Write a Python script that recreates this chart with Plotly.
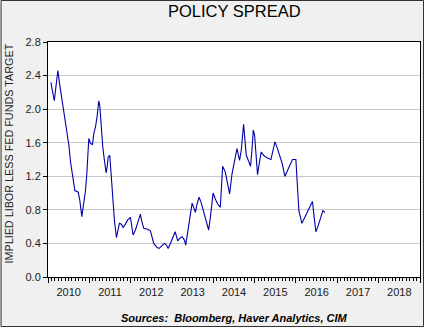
import plotly.graph_objects as go
import pandas as pd

# Decimal-year positions and spread values
x_years = [2010.070, 2010.152, 2010.200, 2010.239, 2010.287, 2010.345, 2010.401, 2010.449, 2010.505, 2010.546,
           2010.594, 2010.650, 2010.732, 2010.771, 2010.819, 2010.867, 2010.908, 2010.940, 2010.988, 2011.029,
           2011.077, 2011.109, 2011.150, 2011.191, 2011.229, 2011.254, 2011.287, 2011.326, 2011.360, 2011.408,
           2011.432, 2011.457, 2011.495, 2011.529, 2011.568, 2011.609, 2011.657, 2011.688, 2011.729, 2011.778,
           2011.819, 2011.874, 2011.930, 2011.995, 2012.060, 2012.116, 2012.172, 2012.237, 2012.261, 2012.316,
           2012.413, 2012.478, 2012.558, 2012.640, 2012.688, 2012.761, 2012.816, 2012.865, 2012.906, 2012.961,
           2013.017, 2013.075, 2013.138, 2013.186, 2013.244, 2013.300, 2013.331, 2013.372, 2013.420, 2013.486,
           2013.524, 2013.565, 2013.606, 2013.655, 2013.703, 2013.766, 2013.824, 2013.886, 2013.928, 2013.993,
           2014.048, 2014.104, 2014.169, 2014.225, 2014.290, 2014.345, 2014.394, 2014.452, 2014.507, 2014.572,
           2014.635, 2014.676, 2014.732, 2014.756, 2014.797, 2014.862, 2014.901, 2014.935, 2014.966, 2014.998,
           2015.031, 2015.070, 2015.118, 2015.159, 2015.215, 2015.297, 2015.394, 2015.442, 2015.490, 2015.553,
           2015.618, 2015.667, 2015.732, 2015.795, 2015.860, 2015.916, 2015.998, 2016.029, 2016.070, 2016.143,
           2016.198, 2016.263, 2016.326, 2016.399, 2016.440, 2016.481, 2016.529, 2016.585, 2016.650, 2016.705]
spread = [2.32, 2.10, 2.30, 2.46, 2.28, 2.10, 1.89, 1.75, 1.57, 1.37,
          1.19, 1.03, 1.01, 0.91, 0.72, 0.89, 1.03, 1.23, 1.65, 1.59,
          1.58, 1.71, 1.79, 1.92, 2.10, 2.04, 1.79, 1.55, 1.41, 1.24,
          1.31, 1.43, 1.45, 1.19, 0.95, 0.67, 0.47, 0.56, 0.64, 0.63,
          0.59, 0.63, 0.68, 0.71, 0.50, 0.56, 0.65, 0.75, 0.68, 0.58,
          0.57, 0.55, 0.40, 0.35, 0.34, 0.37, 0.40, 0.38, 0.34, 0.40,
          0.48, 0.54, 0.43, 0.46, 0.48, 0.44, 0.38, 0.52, 0.70, 0.88,
          0.83, 0.77, 0.87, 0.95, 0.89, 0.77, 0.65, 0.56, 0.71, 1.00,
          0.93, 0.87, 0.83, 1.32, 1.25, 1.13, 0.99, 1.23, 1.37, 1.53,
          1.39, 1.51, 1.82, 1.65, 1.45, 1.37, 1.32, 1.51, 1.75, 1.69,
          1.43, 1.22, 1.37, 1.49, 1.45, 1.42, 1.40, 1.52, 1.61, 1.53,
          1.44, 1.35, 1.20, 1.27, 1.34, 1.40, 1.40, 1.07, 0.79, 0.64,
          0.70, 0.75, 0.83, 0.90, 0.71, 0.54, 0.60, 0.68, 0.79, 0.77]

y_ticks = [0.0, 0.4, 0.8, 1.2, 1.6, 2.0, 2.4, 2.8]

title_text = "POLICY SPREAD"
y_title = "IMPLIED LIBOR LESS FED FUNDS TARGET"
source_text = "<b><i>Sources:  Bloomberg, Haver Analytics, CIM</i></b>"


def to_date(y):
    yr = int(y)
    start = pd.Timestamp(year=yr, month=1, day=1)
    end = pd.Timestamp(year=yr + 1, month=1, day=1)
    return start + (end - start) * (y - yr)


dates = [to_date(v) for v in x_years]

FONT = "Liberation Sans, Arial, sans-serif"

fig = go.Figure()
fig.add_trace(go.Scatter(x=dates, y=spread, mode="lines",
                         line=dict(color="#0000a8", width=1.1), showlegend=False,
                         hoverinfo="skip"))

W, H = 424, 327
L, R, T, B = 47.5, 4, 42, 50
pw, ph = W - L - R, H - T - B


def px_x(x):
    return (x - L) / pw


def px_y(y):
    return (H - B - y) / ph


fig.update_layout(
    width=W, height=H,
    margin=dict(l=L, r=R, t=T, b=B, pad=0),
    paper_bgcolor="#f0f0f0",
    plot_bgcolor="white",
    font=dict(family=FONT, size=11, color="#222"),
    xaxis=dict(
        type="date",
        range=["2010-01-01", "2019-01-01"],
        dtick="M12", tick0="2010-01-01",
        tickformat="%Y", ticklabelmode="period",
        ticks="outside", ticklen=5, tickcolor="black", tickwidth=1,
        showgrid=False, zeroline=False,
        showline=True, linecolor="black", linewidth=1, mirror=True,
        tickfont=dict(size=11, color="#222"),
        minor=dict(dtick="M1", ticks="outside", ticklen=3, tickcolor="black", showgrid=False),
        fixedrange=True,
    ),
    yaxis=dict(
        range=[0, 2.8],
        tickmode="array", tickvals=y_ticks,
        ticktext=[f"{v:.1f}" for v in y_ticks],
        ticks="outside", ticklen=4, tickcolor="black",
        showgrid=True, gridcolor="#c8c8c8", gridwidth=1,
        zeroline=False,
        showline=True, linecolor="black", linewidth=1, mirror=True,
        tickfont=dict(size=11, color="#222"),
        fixedrange=True,
    ),
    annotations=[
        dict(text=title_text, xref="paper", yref="paper", x=0.5, y=px_y(10.5),
             xanchor="center", yanchor="middle", showarrow=False,
             font=dict(size=16.5, color="black", family=FONT)),
        dict(text=y_title, xref="paper", yref="paper", x=px_x(8), y=px_y(154),
             xanchor="center", yanchor="middle", textangle=-90, showarrow=False,
             font=dict(size=10.8, color="#222", family=FONT)),
        dict(text=source_text, xref="paper", yref="paper", x=0.5, y=px_y(317.5),
             xanchor="center", yanchor="middle", showarrow=False,
             font=dict(size=11, color="black", family=FONT)),
    ],
    shapes=[
        dict(type="rect", xref="paper", yref="paper",
             x0=px_x(0.5), x1=px_x(W - 0.5), y0=px_y(H - 0.5), y1=px_y(0.5),
             line=dict(color="#333", width=1), fillcolor="rgba(0,0,0,0)", layer="above"),
    ],
)

fig.write_html("out.html")
